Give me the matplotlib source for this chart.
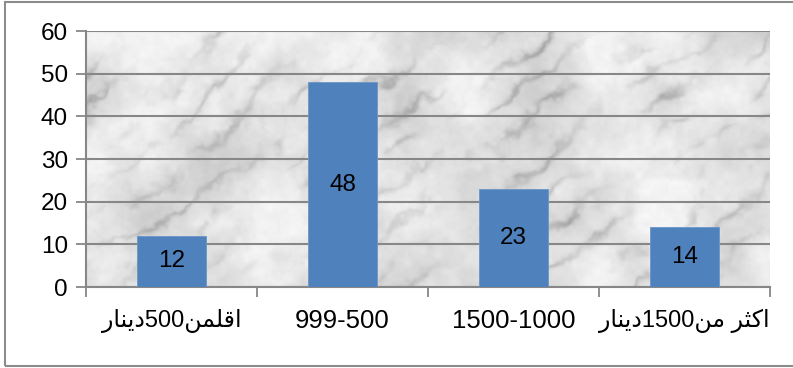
import numpy as np
import matplotlib.pyplot as plt
from matplotlib.patches import Rectangle

# فئات الدخل (كتبت بترتيب العرض مع اشكال الحروف العربية)
categories = ['ﺭﺎﻨﻳﺩ500ﻦﻤﻠﻗﺍ', '999-500', '1500-1000', 'ﺭﺎﻨﻳﺩ1500ﻦﻣ ﺮﺜﻛﺍ']
counts = [12, 48, 23, 14]
yticks = [0, 10, 20, 30, 40, 50, 60]
label_sizes = [17, 18.5, 18.5, 17]

plt.rcParams['font.family'] = ['Liberation Sans', 'DejaVu Sans']


def value_noise(h, w, cell, seed):
    # smooth hash noise, no random generator
    gh, gw = h // cell + 2, w // cell + 2
    i, j = np.mgrid[0:gh, 0:gw]
    g = np.sin(i * 127.1 + j * 311.7 + seed * 74.7) * 43758.5453
    g = g - np.floor(g)
    ys = np.arange(h) / cell
    xs = np.arange(w) / cell
    y0 = np.floor(ys).astype(int)
    x0 = np.floor(xs).astype(int)
    fy = ys - y0
    fx = xs - x0
    fy = fy * fy * (3 - 2 * fy)
    fx = fx * fx * (3 - 2 * fx)
    a = g[y0][:, x0]
    b = g[y0][:, x0 + 1]
    c = g[y0 + 1][:, x0]
    d = g[y0 + 1][:, x0 + 1]
    top = a + (b - a) * fx
    bot = c + (d - c) * fx
    return top + (bot - top) * fy[:, None]


def fbm(h, w, seed, cells=(64, 32, 16, 8, 4)):
    out = np.zeros((h, w))
    amp, tot = 1.0, 0.0
    for k, cell in enumerate(cells):
        out += amp * value_noise(h, w, cell, seed + k)
        tot += amp
        amp *= 0.55
    return out / tot


fig = plt.figure(figsize=(7.93, 3.68), dpi=100)
ax = fig.add_axes([86/793, 1-287/368, 684/793, 256/368])

# outer chart frame
fig.patches.append(Rectangle((5/793, 2/368), 1.0, 364/368, transform=fig.transFigure,
                             fill=False, edgecolor='#8c8c8c', linewidth=1.5))

# marble texture behind the plot area
h, w = 256, 684
yy, xx = np.mgrid[0:h, 0:w].astype(float)
n1 = fbm(h, w, 1)
n2 = fbm(h, w, 11)
n3 = fbm(h, w, 23)
n4 = fbm(h, w, 37, cells=(8, 4, 2))
phase = (xx + yy * 1.3) * 0.06 + n1 * 7
vein = np.exp(-(np.sin(phase) / 0.4) ** 2) * np.clip((n2 - 0.4) * 2.2, 0, 1)
tex = (0.95 - 0.15 * np.clip((n3 - 0.3) * 1.8, 0, 1) - 0.22 * vein
       - 0.05 * (n4 - 0.5))
ax.imshow(tex, cmap='gray', vmin=0, vmax=1, extent=(-0.5, 3.5, 0, 60),
          aspect='auto', zorder=0, interpolation='bilinear')

x = np.arange(len(categories))
bars = ax.bar(x, counts, width=0.4, color='#4f81bd', edgecolor='#6a96c9',
              linewidth=0.6, zorder=3)
for xi, v in zip(x, counts):
    ax.text(xi, v/2, str(v), ha='center', va='center', fontsize=17.5, color='black', zorder=4)

ax.set_xlim(-0.5, 3.5)
ax.set_ylim(0, 60)
ax.set_yticks(yticks)
ax.yaxis.grid(True, color='#878787', linewidth=1.5, zorder=1)
ax.set_axisbelow(False)
for line in ax.get_ygridlines():
    line.set_zorder(1)

ax.set_xticks([-0.5, 0.5, 1.5, 2.5, 3.5])
ax.set_xticklabels([])
ax.set_xticks(x, minor=True)
ax.set_xticklabels(categories, minor=True)
for lab, fs in zip(ax.get_xticklabels(minor=True), label_sizes):
    lab.set_fontsize(fs)
ax.tick_params(axis='x', which='minor', length=0, pad=16)
ax.tick_params(axis='x', which='major', length=7, width=1.3, color='#878787', direction='out')
ax.tick_params(axis='y', length=7, width=1.3, color='#878787', labelsize=17.5, pad=6)

for s in ['top', 'right']:
    ax.spines[s].set_visible(False)
ax.spines['left'].set_color('#878787')
ax.spines['left'].set_linewidth(1.5)
ax.spines['bottom'].set_color('#878787')
ax.spines['bottom'].set_linewidth(1.5)

fig.savefig('out.png', dpi=100)
